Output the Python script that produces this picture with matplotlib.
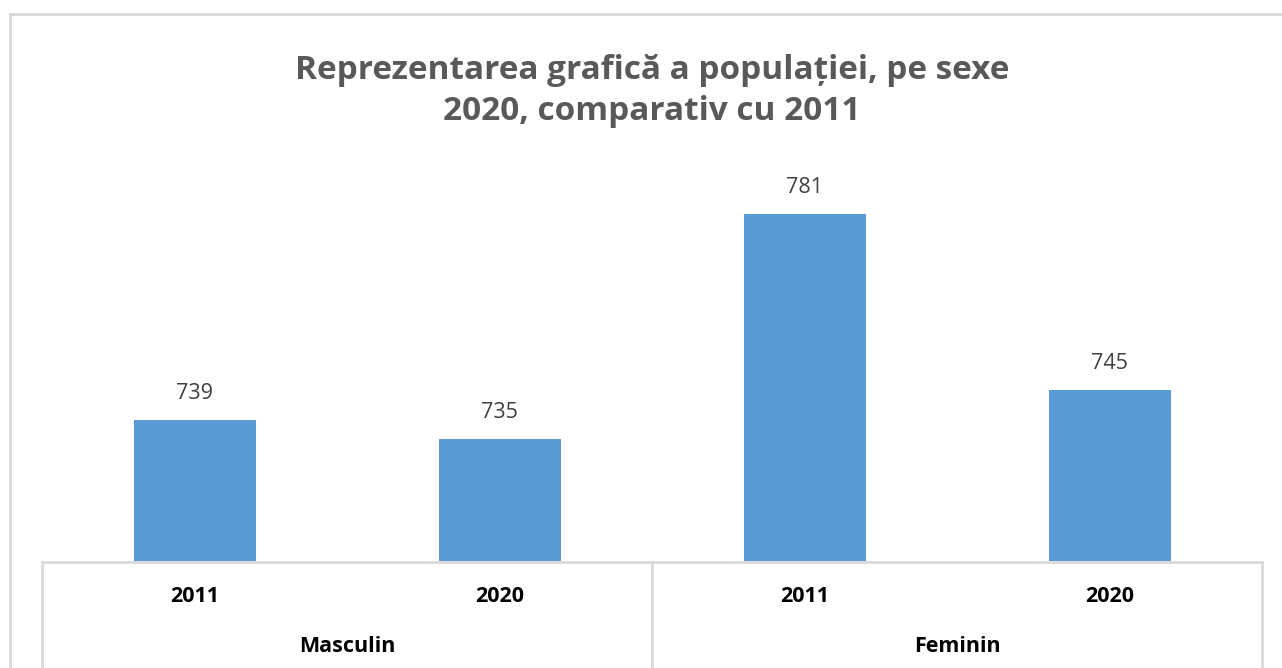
import matplotlib.pyplot as plt
from matplotlib.lines import Line2D

groups = ["Masculin", "Feminin"]
years = ["2011", "2020"]
values = [739, 735, 781, 745]
title = "Reprezentarea grafică a populației, pe sexe\n2020, comparativ cu 2011"

W, H = 1282, 668
fig = plt.figure(figsize=(W / 100, H / 100), dpi=100)
fig.patch.set_facecolor("white")

def fx(px):
    return px / W

def fy(py):
    return 1 - py / H

# outer frame (chart area border)
grey = "#d9d9d9"
fig.add_artist(Line2D([fx(10), fx(10)], [fy(14), fy(H + 5)], color=grey, lw=2, transform=fig.transFigure))
fig.add_artist(Line2D([fx(10), fx(W + 5)], [fy(14), fy(14)], color=grey, lw=2, transform=fig.transFigure))

ax_left, ax_right = 42, 1262
base_px = 561.5
ymin, ymax = 710, 790
ppu = 4.891
top_px = base_px - (ymax - ymin) * ppu
ax = fig.add_axes([fx(ax_left), fy(base_px), fx(ax_right - ax_left), (base_px - top_px) / H])

n = len(values)
xs = list(range(n))
ax.bar(xs, [v - ymin for v in values], bottom=ymin, width=0.4, color="#5b9bd5")
ax.set_xlim(-0.5, n - 0.5)
ax.set_ylim(ymin, ymax)
ax.axis("off")

for x, v in zip(xs, values):
    ax.annotate(str(v), (x, v), xytext=(0, 19), textcoords="offset points",
                ha="center", va="center", fontsize=15.5, color="#404040", family="Open Sans")

# hierarchical category axis
fig.add_artist(Line2D([fx(ax_left), fx(ax_right)], [fy(base_px), fy(base_px)], color=grey, lw=2, transform=fig.transFigure))
for px in (ax_left, (ax_left + ax_right) / 2, ax_right):
    fig.add_artist(Line2D([fx(px), fx(px)], [fy(base_px), fy(H + 5)], color=grey, lw=2, transform=fig.transFigure))

cat_w = (ax_right - ax_left) / n
for i in range(n):
    cx = ax_left + cat_w * (i + 0.5)
    fig.text(fx(cx), fy(596), years[i % 2], ha="center", va="center", fontsize=15.5,
             fontweight="bold", color="#000000", family="Open Sans")
for g, name in enumerate(groups):
    cx = ax_left + cat_w * (2 * g + 1)
    fig.text(fx(cx), fy(646), name, ha="center", va="center", fontsize=15.5,
             fontweight="bold", color="#000000", family="Open Sans")

fig.text(fx(652), fy(91), title, ha="center", va="center", fontsize=24,
         fontweight="bold", color="#595959", family="Open Sans", linespacing=1.32)

fig.savefig("out.png", dpi=100)
